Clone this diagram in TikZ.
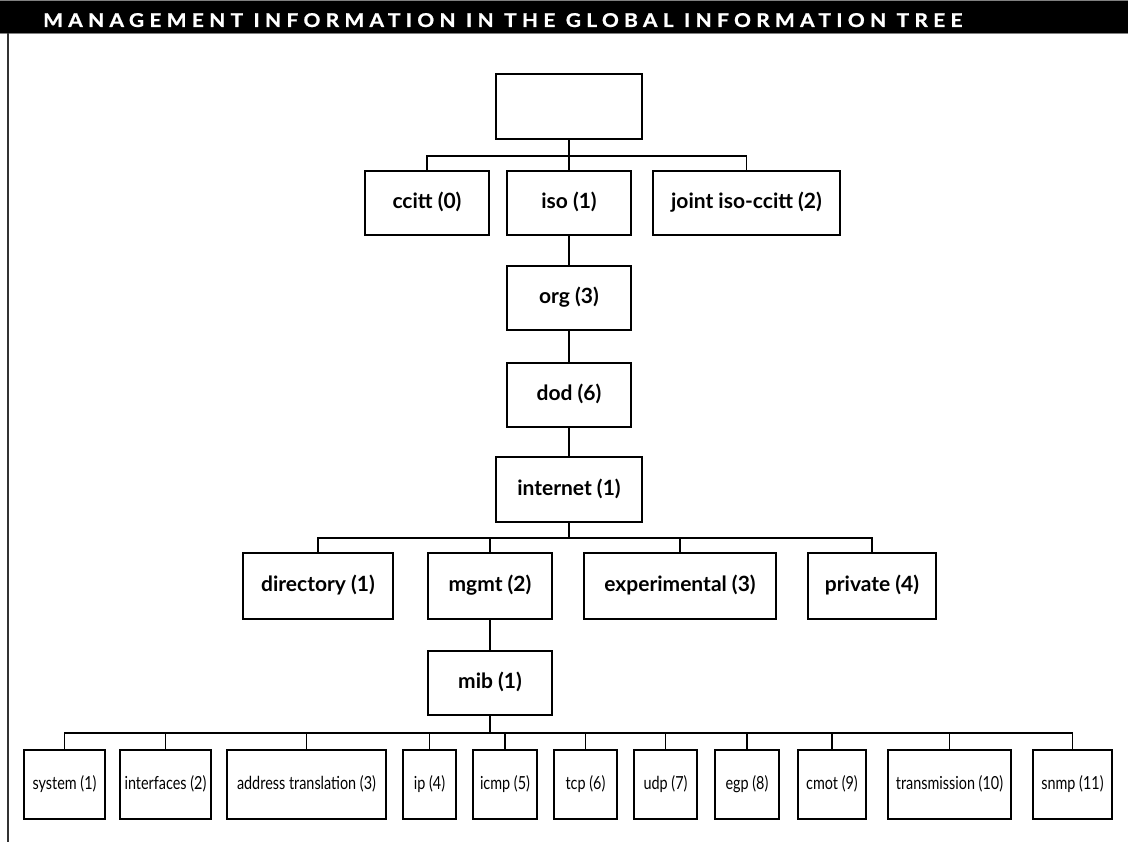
\documentclass[tikz,border=0pt]{standalone}
\usepackage{fontspec}
\setmainfont{Lato}
\newfontfamily\condfont[FakeStretch=0.8]{Lato}
\newfontfamily\titlefont[FakeStretch=1.1,LetterSpace=28,FakeBold=1]{Lato}
\usetikzlibrary{positioning}

\begin{document}
\begin{tikzpicture}[x=1pt,y=-1pt,
  box/.style={draw,line width=1.8pt,minimum height=64pt,inner sep=0pt,
    text height=15pt,text depth=4pt,
    font=\fontsize{21}{24}\selectfont\bfseries},
  leaf/.style={draw,line width=1.8pt,minimum height=69pt,inner sep=0pt,
    text height=13pt,text depth=4pt,
    font=\condfont\fontsize{18}{20}\selectfont},
  link/.style={line width=1.8pt}
]
\useasboundingbox (0,0) rectangle (1128,842);
% title bar
\fill[black] (0,1) rectangle (1128,33);
\draw[gray,line width=1pt] (0,0.5) -- (1128,0.5) (0,33.5) -- (1128,33.5);
\draw[black!80,line width=1.2pt] (8,33) -- (8,842);
\node[anchor=base west,text=white,inner sep=0pt,
  font=\titlefont\fontsize{19}{21}\selectfont\bfseries] (title) at (43,27)
  {MANAGEMENT INFORMATION IN THE GLOBAL INFORMATION TREE};

% upper tree
\node[box,minimum width=146pt,minimum height=65pt] (root) at (569,106.5) {};
\node[box,minimum width=124pt] (ccitt) at (427,203) {ccitt (0)};
\node[box,minimum width=124pt] (iso) at (569,203) {iso (1)};
\node[box,minimum width=187pt] (joint) at (746.5,203) {joint iso-ccitt (2)};
\node[box,minimum width=124pt] (org) at (569,298) {org (3)};
\node[box,minimum width=124pt] (dod) at (569,395) {dod (6)};
\node[box,minimum width=146pt,minimum height=65pt] (internet) at (569,489.5) {internet (1)};
\node[box,minimum width=150pt,minimum height=66pt] (directory) at (318,586) {directory (1)};
\node[box,minimum width=124pt,minimum height=66pt] (mgmt) at (490,586) {mgmt (2)};
\node[box,minimum width=192pt,minimum height=66pt] (experimental) at (680,586) {experimental (3)};
\node[box,minimum width=128pt,minimum height=66pt] (private) at (872,586) {private (4)};
\node[box,minimum width=124pt] (mib) at (490,683) {mib (1)};

% mib leaves
\foreach \n/\t/\x/\w in {system/system (1)/64.5/81,interfaces/interfaces (2)/165.5/91,
  addr/address translation (3)/306.5/159,ip/ip (4)/429.5/53,icmp/icmp (5)/505/64,
  tcp/tcp (6)/585.5/63,udp/udp (7)/665.5/63,egp/egp (8)/747/64,cmot/cmot (9)/832/68,
  trans/transmission (10)/949.5/123,snmp/snmp (11)/1072.5/79}
  \node[leaf,minimum width=\w pt] (\n) at (\x,784.5) {\t};

% connectors
\foreach \c in {ccitt,iso,joint}
  \draw[link] (root.south) -- ++(0,16) -| (\c.north);
\draw[link] (iso) -- (org);
\draw[link] (org) -- (dod);
\draw[link] (dod) -- (internet);
\foreach \c in {directory,mgmt,experimental,private}
  \draw[link] (internet.south) -- ++(0,15) -| (\c.north);
\draw[link] (mgmt) -- (mib);
\foreach \c in {system,interfaces,addr,ip,icmp,tcp,udp,egp,cmot,trans,snmp}
  \draw[link] (mib.south) -- ++(0,17) -| (\c.north);
\end{tikzpicture}
\end{document}
